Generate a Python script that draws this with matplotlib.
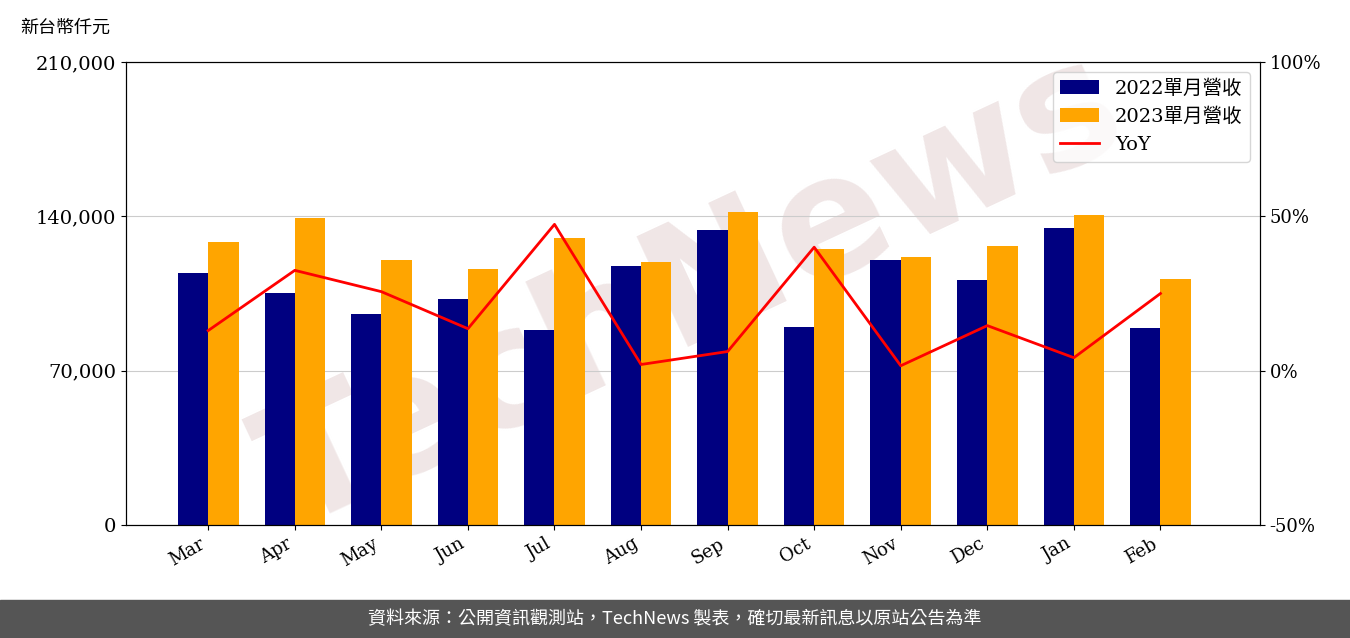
import matplotlib
matplotlib.use("Agg")
import matplotlib.pyplot as plt
import numpy as np

plt.rcParams['font.family'] = ['DejaVu Serif', 'Noto Sans CJK TC']

months = ["Mar","Apr","May","Jun","Jul","Aug","Sep","Oct","Nov","Dec","Jan","Feb"]
rev2022 = [114100,105400,95900,102300,88600,117300,133600,90000,120000,110900,134500,89500]
rev2023 = [128200,139100,120000,115900,130000,119500,141800,125400,121400,126400,140400,111800]
yoy = [13.0,32.5,25.6,13.6,47.4,2.0,6.2,40.0,1.6,14.6,4.2,25.0]

fig = plt.figure(figsize=(13.5,6.38), dpi=100)
ax = fig.add_axes([126/1350, 1-525/638, (1260-126)/1350, (525-62)/638])
x = np.arange(len(months))
w = 0.35
ax.text(0.5, 0.5, 'TechNews', transform=ax.transAxes, fontsize=120, color='#e6d6d6', alpha=0.6,
        rotation=25, ha='center', va='center', family='DejaVu Sans', fontweight='bold', zorder=1)
ax.bar(x-w/2, rev2022, w, color='#000080', label='2022單月營收', zorder=2)
ax.bar(x+w/2, rev2023, w, color='#FFA500', label='2023單月營收', zorder=2)
ax.set_ylim(0,210000)
ax.set_yticks([0,70000,140000,210000])
ax.set_yticklabels([f"{v:,}" for v in [0,70000,140000,210000]], fontsize=14)
ax.yaxis.grid(True, color='#cccccc', zorder=0)
ax.set_xlim(-0.95, 12.15)
ax.set_xticks(x)
ax.set_xticklabels(months, rotation=30, ha='right', fontsize=13)
ax2 = ax.twinx()
ln, = ax2.plot(x, yoy, color='red', lw=2, label='YoY')
ax2.set_ylim(-50,100)
ax2.set_yticks([-50,0,50,100])
ax2.set_yticklabels(['-50%','0%','50%','100%'], fontsize=13)
h1,l1 = ax.get_legend_handles_labels()
ax2.legend(h1+[ln], l1+['YoY'], loc='upper right', fontsize=14)
fig.text(20/1350, 1-28/638, '新台幣仟元', fontsize=13, va='center', family=['Noto Sans CJK TC'])
fig.patches.append(plt.Rectangle((0,0),1,38/638, transform=fig.transFigure, color='#555555', zorder=0))
fig.text(0.5, 19/638, '資料來源：公開資訊觀測站，TechNews 製表，確切最新訊息以原站公告為準',
         color='white', fontsize=13, ha='center', va='center', family=['Noto Sans CJK TC'])
fig.savefig('out.png', dpi=100)
